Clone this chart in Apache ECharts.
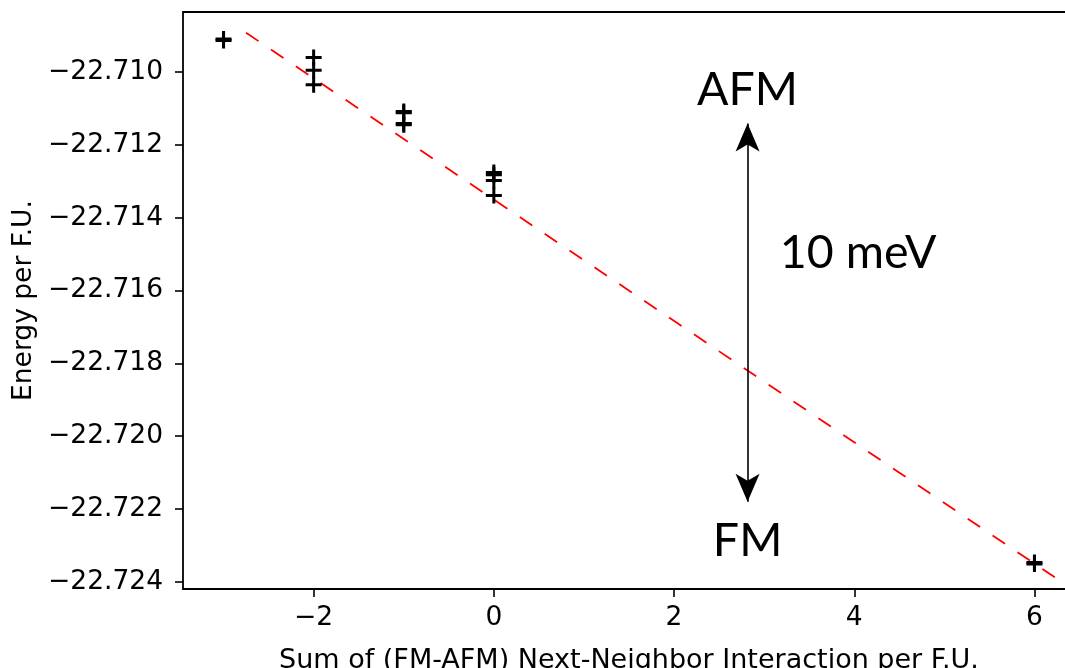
<!DOCTYPE html>
<html><head><meta charset="utf-8">
<script src="https://cdn.jsdelivr.net/npm/echarts@6/dist/echarts.min.js"></script>
<style>html,body{margin:0;padding:0;background:#fff}#c{width:1065px;height:668px}</style>
</head><body><div id="c"></div>
<script>
// Data
const interactionSum = [-3, -3, -2, -2, -2, -1, -1, -1, -1, 0, 0, 0, 0, 6, 6];
const energyPerFU = [-22.70909, -22.70913, -22.70960, -22.70995, -22.71035,
  -22.71108, -22.71112, -22.71141, -22.71145,
  -22.71276, -22.71282, -22.71298, -22.71339,
  -22.72347, -22.72351];
const fitLineX = [-2.75, 6.25];
const fitLineY = [-22.70892, -22.72392];
const xTickValues = [-2, 0, 2, 4, 6];
const yTickValues = [-22.710, -22.712, -22.714, -22.716, -22.718, -22.720, -22.722, -22.724];
const arrowX = 2.816;
const arrowEnds = [-22.71141, -22.72180];
const annotationTexts = ['AFM', '10 meV', 'FM'];
const annotationAnchors = [[2.816, -22.71049], [3.174, -22.71496], [2.816, -22.72288]];
const annotationAlign = ['center', 'left', 'center'];

const fmt = v => (v < 0 ? '\u2212' : '') + Math.abs(v).toFixed(3);
const fmtX = v => (v < 0 ? '\u2212' : '') + Math.abs(v);

const plusPath = 'path://M6.5,0H9.5V6.5H16V9.5H9.5V16H6.5V9.5H0V6.5H6.5Z';

const chart = echarts.init(document.getElementById('c'), null, {renderer: 'canvas'});
const tickFont = {fontFamily: 'DejaVu Sans', fontSize: 26.5, color: '#000'};

chart.setOption({
  animation: false,
  backgroundColor: '#fff',
  grid: {left: 183, top: 12, right: -10, bottom: 79, show: true, borderColor: '#000', borderWidth: 1.8,
    backgroundColor: 'transparent', containLabel: false, outerBoundsMode: 'none'},
  xAxis: {
    type: 'value', min: -3.45, max: 6.45,
    splitLine: {show: false},
    axisLine: {show: false, onZero: false},
    axisTick: {show: true, length: 8, lineStyle: {color: '#000', width: 1.6}, customValues: xTickValues},
    axisLabel: Object.assign({margin: 16, formatter: fmtX, customValues: xTickValues}, tickFont),
    name: 'Sum of (FM-AFM) Next-Neighbor Interaction per F.U.',
    nameLocation: 'middle', nameGap: 58,
    nameTextStyle: {fontFamily: 'DejaVu Sans', fontSize: 27, color: '#000'}
  },
  yAxis: {
    type: 'value', min: -22.7242, max: -22.70835,
    splitLine: {show: false},
    axisLine: {show: false, onZero: false},
    axisTick: {show: true, length: 8, lineStyle: {color: '#000', width: 1.6}, customValues: yTickValues},
    axisLabel: Object.assign({margin: 20, formatter: fmt, customValues: yTickValues}, tickFont),
    name: 'Energy per F.U.',
    nameLocation: 'middle', nameGap: 144, nameRotate: 90,
    nameTextStyle: {fontFamily: 'DejaVu Sans', fontSize: 26.5, color: '#000'}
  },
  series: [
    {
      type: 'line',
      data: fitLineX.map((x, i) => [x, fitLineY[i]]),
      showSymbol: false, symbol: 'none',
      lineStyle: {color: '#ff0000', width: 1.8, type: [15, 15]},
      silent: true, z: 2
    },
    {
      type: 'scatter',
      data: interactionSum.map((x, i) => [x, energyPerFU[i]]),
      symbol: plusPath, symbolSize: 16,
      itemStyle: {color: '#000', opacity: 1},
      silent: true, z: 3
    },
    {
      type: 'line',
      data: [],
      markLine: {
        silent: true, animation: false,
        symbol: ['arrow', 'arrow'], symbolSize: [18, 28],
        lineStyle: {color: '#000', width: 1.6, type: 'solid', opacity: 1},
        label: {show: false},
        data: [[{coord: [arrowX, arrowEnds[0]]}, {coord: [arrowX, arrowEnds[1]]}]]
      }
    },
    {
      type: 'scatter',
      data: annotationAnchors.map((p, i) => ({value: p, name: annotationTexts[i],
        label: {align: annotationAlign[i]}})),
      symbolSize: 0, silent: true,
      itemStyle: {opacity: 1},
      label: {show: true, position: 'inside', formatter: p => p.name, opacity: 1,
        fontFamily: 'Lato', fontSize: 46.5, color: '#000', verticalAlign: 'middle'}
    }
  ]
});
</script></body></html>
